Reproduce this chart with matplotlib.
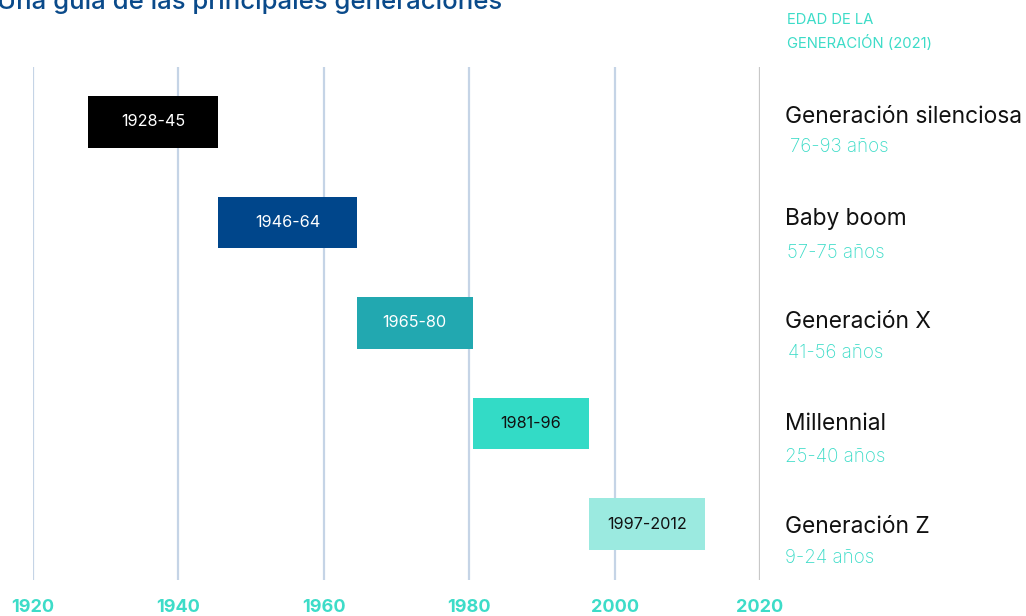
import matplotlib.pyplot as plt

plt.rcParams['font.family'] = ['Inter', 'DejaVu Sans']

# Data
generations = ['Generación silenciosa', 'Baby boom', 'Generación X', 'Millennial', 'Generación Z']
start_year = [1928, 1946, 1965, 1981, 1997]
end_year = [1945, 1964, 1980, 1996, 2012]
bar_labels = ['1928-45', '1946-64', '1965-80', '1981-96', '1997-2012']
ages = ['76-93 años', '57-75 años', '41-56 años', '25-40 años', '9-24 años']
year_ticks = [1920, 1940, 1960, 1980, 2000, 2020]

bar_colors = ['#000000', '#00468b', '#22a8b0', '#33dbc6', '#9beae0']
text_colors = ['white', 'white', 'white', '#111111', '#111111']
teal = '#3ddcc8'

W, H = 1026, 616
fig = plt.figure(figsize=(W / 100, H / 100), dpi=100)
# axes spans the grid lines: x 33..760 px, y 67..580 px
ax = fig.add_axes([33 / W, 1 - 580 / H, 727 / W, 513 / H])
ax.set_xlim(1920, 2020)
ax.set_ylim(4.557, -0.547)

for yr in year_ticks:
    ax.axvline(yr, color='#c8c8c8' if yr == 2020 else '#c5d4e6', lw=1.6, zorder=0)

for i in range(len(generations)):
    # each bar covers whole years, from the start of the first to the end of the last
    left = start_year[i] - 0.5
    width = end_year[i] + 0.5 - left
    ax.barh(i, width, left=left, height=0.51, color=bar_colors[i], zorder=2)
    ax.text(left + width / 2, i, bar_labels[i], ha='center', va='center',
            color=text_colors[i], fontsize=11.7, zorder=3)

name_dy = [-0.05, -0.03, -0.01, 0.0, 0.03]
age_dy = [0.25, 0.30, 0.30, 0.33, 0.34]
age_dx = [0.7, 0.3, 0.4, 0.0, 0.0]
for i in range(len(generations)):
    ax.text(2023.4, i + name_dy[i], generations[i], ha='left', va='center',
            fontsize=16.4, color='#111111', clip_on=False)
    ax.text(2023.4 + age_dx[i], i + age_dy[i], ages[i], ha='left', va='center',
            fontsize=13.5, color=teal, fontweight='light', clip_on=False)

ax.set_xticks(year_ticks)
ax.set_xticklabels([str(y) for y in year_ticks], fontsize=13, fontweight='bold', color=teal)
ax.tick_params(axis='x', length=0, pad=14)
ax.set_yticks([])
for s in ax.spines.values():
    s.set_visible(False)

fig.text(787 / W, 1 - 32 / H, 'EDAD DE LA\nGENERACIÓN (2021)', ha='left', va='center',
         fontsize=10.7, color=teal, linespacing=1.6)
# title sits partly above the top edge, as in the source image
fig.text(-3 / W, 1 - 9 / H, 'Una guía de las principales generaciones', ha='left',
         va='baseline', fontsize=18.5, fontweight='medium', color='#0a4a8a')

fig.savefig('out.png', dpi=100)
